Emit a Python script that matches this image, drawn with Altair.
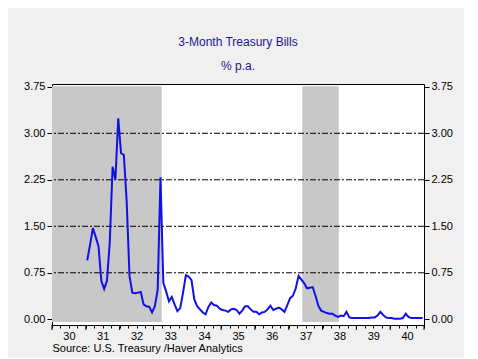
import altair as alt
import pandas as pd

# ---------------- data ----------------
# 3-month Treasury bill rate, % p.a., monthly Jan 1931 .. Dec 1940
rate_1931 = [0.95, 1.20, 1.47, 1.33, 1.18, 0.62, 0.49, 0.62, 1.24, 2.46, 2.25, 3.24]
rate_1932 = [2.68, 2.65, 1.90, 0.70, 0.43, 0.42, 0.43, 0.44, 0.24, 0.21, 0.20, 0.11]
rate_1933 = [0.21, 0.48, 2.29, 0.59, 0.45, 0.29, 0.36, 0.24, 0.13, 0.18, 0.43, 0.71]
rate_1934 = [0.69, 0.63, 0.32, 0.21, 0.16, 0.11, 0.08, 0.20, 0.27, 0.23, 0.22, 0.17]
rate_1935 = [0.15, 0.14, 0.12, 0.16, 0.17, 0.15, 0.09, 0.14, 0.21, 0.21, 0.16, 0.12]
rate_1936 = [0.12, 0.08, 0.11, 0.12, 0.16, 0.22, 0.15, 0.17, 0.19, 0.16, 0.12, 0.23]
rate_1937 = [0.34, 0.38, 0.50, 0.70, 0.64, 0.58, 0.50, 0.51, 0.52, 0.38, 0.22, 0.14]
rate_1938 = [0.12, 0.10, 0.09, 0.09, 0.06, 0.04, 0.06, 0.05, 0.12, 0.03, 0.02, 0.02]
rate_1939 = [0.02, 0.02, 0.02, 0.02, 0.02, 0.03, 0.03, 0.06, 0.12, 0.07, 0.03, 0.02]
rate_1940 = [0.02, 0.01, 0.01, 0.01, 0.02, 0.09, 0.04, 0.02, 0.02, 0.02, 0.02, 0.02]
first_year = 1931

# recession periods (decimal years)
rec_start = [1929.60, 1937.40]
rec_end = [1933.245, 1938.48]

# axis values / labels
y_ticks = [0, 0.75, 1.5, 2.25, 3.0, 3.75]
grid_levels = [0.75, 1.5, 2.25, 3.0]
year_ticks = list(range(1930, 1942))
quarter_ticks = [1930 + q / 4 for q in range(45)]

title_text = "3-Month Treasury Bills"
subtitle_text = "% p.a."
source_text = "Source:  U.S. Treasury /Haver Analytics"

# ---------------- tables ----------------
rates = (rate_1931 + rate_1932 + rate_1933 + rate_1934 + rate_1935 +
         rate_1936 + rate_1937 + rate_1938 + rate_1939 + rate_1940)
line_df = pd.DataFrame({
    "year": [first_year + (i + 0.5) / 12 for i in range(len(rates))],
    "rate": rates,
})
rec_df = pd.DataFrame({"year": rec_start, "year_end": rec_end})
grid_df = pd.DataFrame({"level": grid_levels})
tick_df = pd.DataFrame({"year": year_ticks})

# ---------------- chart ----------------
W, H = 372, 241
FONT = "Liberation Sans"
xscale = alt.Scale(domain=[1930, 1941], nice=False, zero=False)
yscale = alt.Scale(domain=[-0.092, 3.795], nice=False, zero=False)

xaxis = alt.Axis(
    values=quarter_ticks,
    labelExpr="datum.value % 1 == 0.5 ? format(floor(datum.value) % 100, 'd') : ''",
    tickSize=3, labelPadding=2, tickColor="black", domainColor="black",
    labelColor="black", labelFontSize=11, labelFont=FONT, grid=False,
    labelOverlap=False, labelFlush=False,
    title=source_text, titleFont=FONT, titleFontSize=11, titleFontWeight="normal",
    titleColor="black", titleAnchor="start", titlePadding=1,
)


def yaxis(orient):
    return alt.Axis(
        orient=orient, values=y_ticks, format=".2f", tickSize=5, labelPadding=2,
        domain=False, grid=False, labelFontSize=11, labelFont=FONT,
        labelColor="black", tickColor="black", title=None,
    )


X = lambda f: alt.X(f, type="quantitative", scale=xscale, axis=xaxis)

shade = alt.Chart(rec_df).mark_rect(color="#c8c8c8", clip=True).encode(
    x=X("year"),
    x2="year_end:Q",
    y=alt.YDatum(3.76, scale=yscale, axis=None),
    y2=alt.Y2Datum(-0.045),
)

grid = alt.Chart(grid_df).mark_rule(
    color="black", strokeWidth=1, strokeDash=[6, 2, 2, 2]
).encode(
    y=alt.Y("level:Q", scale=yscale, axis=yaxis("right")),
)

line = alt.Chart(line_df).mark_line(color="#1010e8", strokeWidth=2).encode(
    x=X("year"),
    y=alt.Y("rate:Q", scale=yscale, axis=yaxis("left")),
)

major = alt.Chart(tick_df).mark_rule(color="black", strokeWidth=1).encode(
    x=X("year"),
    y=alt.value(H),
    y2=alt.value(H + 5),
)

chart = (
    alt.layer(shade, grid, line, major)
    .resolve_scale(y="independent")
    .properties(
        width=W, height=H,
        title=alt.TitleParams(
            text=title_text, subtitle=subtitle_text, anchor="middle",
            font=FONT, fontSize=12, fontWeight="normal", color="#1a1a8c",
            subtitleFont=FONT, subtitleFontSize=12, subtitleColor="#1a1a8c",
            subtitlePadding=12, offset=8,
        ),
        autosize=alt.AutoSizeParams(type="none"),
        padding={"left": 44, "top": 76, "right": 40, "bottom": 33},
        background="#f0f0f0",
    )
    .configure_view(stroke="black", strokeWidth=1, fill="white")
)

chart.save("out.html", embed_options={"renderer": "svg", "actions": False})
